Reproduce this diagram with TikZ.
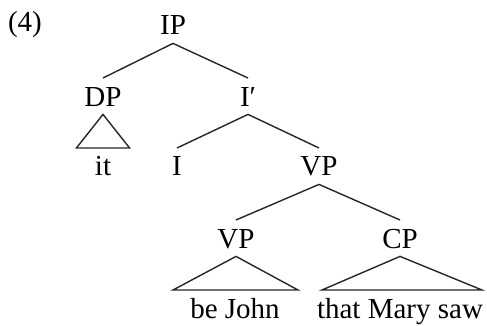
\documentclass[tikz,border=0pt]{standalone}
\usepackage{fontspec}
\setmainfont{Liberation Serif}
\usepackage{tikz}
\usetikzlibrary{calc}

\tikzset{
  cat/.style={anchor=base, inner xsep=0pt, inner ysep=4.2pt, outer sep=0pt,
    text height=9.8pt, text depth=0pt},
  branch/.style={line width=0.7pt, draw=black!85}
}

\begin{document}
\begin{tikzpicture}[x=0.5pt, y=-0.5pt]
        \useasboundingbox (0,0) rectangle (487,326);
        {\fontsize{14.5pt}{17pt}\selectfont

        % Example number
        \node (num) at (25,32) [cat] {(4)};

        % Marking the categories
        \node (IP) at (173,35) [cat] {IP};
        \node (DP) at (103,106) [cat] {DP};
        \node (Ibar) at (248,106) [cat] {I′};
        \node (I) at (177,176) [cat] {I};
        \node (VP) at (319,176) [cat] {VP};
        \node (VPlow) at (236,248) [cat] {VP};
        \node (CP) at (400,248) [cat] {CP};

        % Marking the leaves
        \node (it) at (103,176) [cat] {it};
        \node (beJohn) at (235,318) [cat] {be John};
        \node (thatMary) at (400,318) [cat] {that Mary saw};

        % Drawing the branches
        \draw [branch] (IP.south) -- (DP.north);
        \draw [branch] (IP.south) -- (Ibar.north);
        \draw [branch] (Ibar.south) -- (I.north);
        \draw [branch] (Ibar.south) -- (VP.north);
        \draw [branch] (VP.south) -- (VPlow.north);
        \draw [branch] (VP.south) -- (CP.north);

        % Drawing the triangles
        \draw [branch] (DP.south) -- ([xshift=-13.3pt]it.north) -- ([xshift=13.3pt]it.north) -- cycle;
        \draw [branch] (VPlow.south) -- ([xshift=-31pt]beJohn.north) -- ([xshift=31.5pt]beJohn.north) -- cycle;
        \draw [branch] (CP.south) -- ([xshift=-39pt]thatMary.north) -- ([xshift=41pt]thatMary.north) -- cycle;
        }
\end{tikzpicture}
\end{document}
